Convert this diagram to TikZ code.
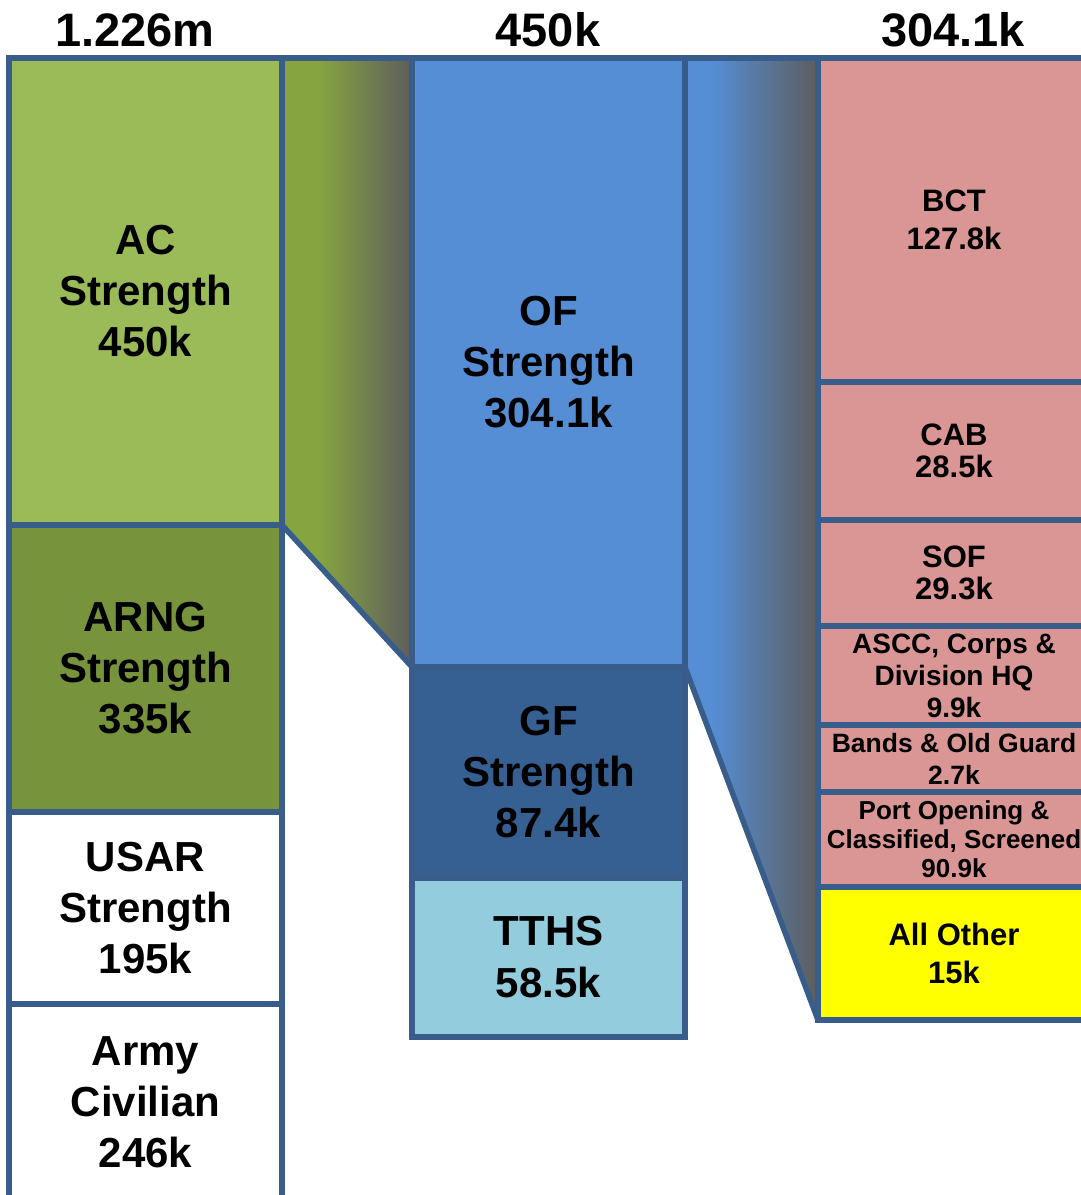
\documentclass[tikz,border=0pt]{standalone}
\usepackage{fontspec}
\setmainfont{Liberation Sans}
\usepackage{tikz}
\definecolor{bordc}{HTML}{385D8A}
\definecolor{acgreen}{HTML}{9BBB59}
\definecolor{arnggreen}{HTML}{77933C}
\definecolor{ofblue}{HTML}{558ED5}
\definecolor{gfblue}{HTML}{376092}
\definecolor{tthsblue}{HTML}{93CDDD}
\definecolor{pinkc}{HTML}{D99694}
\definecolor{yelc}{HTML}{FFFF00}
\definecolor{trapgreen}{HTML}{86A540}
\definecolor{trapgray}{HTML}{5D5D5D}
\pgfdeclarehorizontalshading{gfade}{100bp}{color(0bp)=(trapgreen); color(39bp)=(trapgreen); color(75bp)=(trapgray); color(100bp)=(trapgray)}
\pgfdeclarehorizontalshading{bfade}{100bp}{color(0bp)=(ofblue); color(35bp)=(ofblue); color(75bp)=(trapgray); color(100bp)=(trapgray)}
\pgfdeclarelayer{background}
\pgfsetlayers{background,main}
\begin{document}
\begin{tikzpicture}[x=1pt,y=-1pt,
  box/.style={draw=bordc, line width=5.5pt, anchor=north west, inner sep=0pt, outer sep=0pt, align=center, text=black},
  leftbox/.style={box, minimum width=273pt},
  rightbox/.style={box, minimum width=272pt},
  bigtxt/.style={font=\fontsize{42}{51}\selectfont\bfseries},
  medtxt/.style={font=\fontsize{31}{38}\selectfont\bfseries},
  medtight/.style={font=\fontsize{31}{32.5}\selectfont\bfseries},
  smalltxt/.style={font=\fontsize{28}{32}\selectfont\bfseries},
  bandtxt/.style={font=\fontsize{26.5}{32}\selectfont\bfseries},
  smalltight/.style={font=\fontsize{26}{29}\selectfont\bfseries},
  head/.style={anchor=base, font=\fontsize{47}{50}\selectfont\bfseries},
  edge/.style={draw=bordc, line width=5.5pt}
]
\useasboundingbox (0,0) rectangle (1080,1195);
% left column
\node[leftbox, bigtxt, fill=acgreen, minimum height=467pt] (ac) at (9,58) {AC\\Strength\\450k};
\node[leftbox, bigtxt, fill=arnggreen, minimum height=287pt] (arng) at (9,525) {ARNG\\Strength\\335k};
\node[leftbox, bigtxt, fill=white, minimum height=192pt] (usar) at (9,812) {USAR\\Strength\\195k};
\node[leftbox, bigtxt, fill=white, minimum height=196pt] (civ) at (9,1004) {Army\\Civilian\\246k};
% middle column
\node[leftbox, bigtxt, fill=ofblue, minimum height=609pt] (of) at (412,58) {OF\\Strength\\304.1k};
\node[leftbox, bigtxt, fill=gfblue, minimum height=211pt] (gf) at (412,667) {GF\\Strength\\87.4k};
\node[leftbox, font=\fontsize{42}{52}\selectfont\bfseries, fill=tthsblue, minimum height=159pt] (tths) at (412,878) {TTHS\\58.5k};
% right column
\node[rightbox, medtxt, fill=pinkc, minimum height=324pt] (bct) at (818,58) {BCT\\127.8k};
\node[rightbox, medtight, fill=pinkc, minimum height=138pt] (cab) at (818,382) {CAB\\28.5k};
\node[rightbox, medtight, fill=pinkc, minimum height=106pt] (sof) at (818,520) {SOF\\29.3k};
\node[rightbox, smalltxt, fill=pinkc, minimum height=99pt] (ascc) at (818,626) {ASCC, Corps \&\\Division HQ\\9.9k};
\node[rightbox, bandtxt, fill=pinkc, minimum height=67pt] (bands) at (818,725) {Bands \& Old Guard\\2.7k};
\node[rightbox, smalltight, fill=pinkc, minimum height=95pt] (port) at (818,792) {Port Opening \&\\Classified, Screened\\90.9k};
\node[rightbox, medtxt, fill=yelc, minimum height=133pt] (other) at (818,887) {All Other\\15k};
% connecting trapezoids
\begin{pgfonlayer}{background}
\fill[shading=gfade] (ac.north east) -- (of.north west) -- (of.south west) -- (ac.south east) -- cycle;
\fill[shading=bfade] (of.north east) -- (bct.north west) -- (other.south west) -- (of.south east) -- cycle;
\end{pgfonlayer}
\draw[edge] (ac.north east) -- (of.north west);
\draw[edge] (ac.south east) -- (of.south west);
\draw[edge] (of.north east) -- (bct.north west);
\draw[edge] (of.south east) -- (other.south west);
% headers
\node[head] (h1) at (135,46) {1.226m};
\node[head] (h2) at (548,46) {450k};
\node[head] (h3) at (953,46) {304.1k};
\end{tikzpicture}
\end{document}
